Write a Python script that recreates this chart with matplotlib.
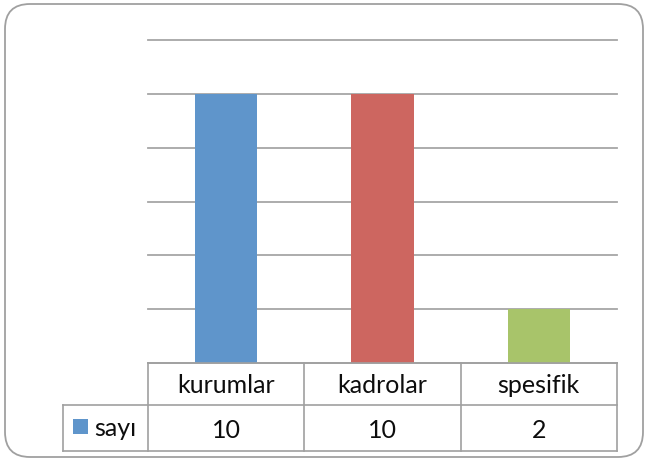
import matplotlib
matplotlib.use("Agg")
import matplotlib.pyplot as plt
from matplotlib.patches import FancyBboxPatch, Rectangle

categories = ["kurumlar", "kadrolar", "spesifik"]
values = [10, 10, 2]
series_name = "sayı"
y_ticks = [0, 2, 4, 6, 8, 10, 12]
bar_colors = ["#5F95CB", "#CD6660", "#A8C46A"]

plt.rcParams['font.family'] = ['Lato', 'DejaVu Sans']

W, H = 645, 464
fig = plt.figure(figsize=(W / 100, H / 100), dpi=100)
fig.patch.set_facecolor("white")

# axes placement in pixels
L, R, T, B = 148, 617, 41, 364
ax = fig.add_axes([L / W, 1 - B / H, (R - L) / W, (B - T) / H])

x = list(range(len(categories)))
ax.bar(x, values, width=0.4, color=bar_colors, zorder=3)
ax.set_xlim(-0.5, len(categories) - 0.5)
ax.set_ylim(y_ticks[0], y_ticks[-1])
ax.set_yticks(y_ticks)
ax.yaxis.grid(True, color="#A6A6A6", lw=1.3, zorder=0)
ax.set_axisbelow(True)
for s in ax.spines.values():
    s.set_visible(False)
ax.tick_params(left=False, bottom=False, labelleft=False, labelbottom=False)
for gl in ax.yaxis.get_gridlines():
    gl.set_clip_on(False)

# data table below the axis
aw, ah = R - L, B - T
def fx(px):
    return (px - L) / aw
def fy(py):
    return (B - py) / ah

tc = "#A0A0A0"
lw = 1.2
row1 = 406
row2 = 452
left_col = 62.5
tr = ax.transAxes
ax.plot([0, 1], [0, 0], color=tc, lw=lw, transform=tr, clip_on=False, zorder=4)
ax.plot([fx(left_col), 1], [fy(row1), fy(row1)], color=tc, lw=lw, transform=tr, clip_on=False)
ax.plot([fx(left_col), 1], [fy(row2), fy(row2)], color=tc, lw=lw, transform=tr, clip_on=False)
n = len(categories)
for i in range(n + 1):
    ax.plot([i / n, i / n], [0, fy(row2)], color=tc, lw=lw, transform=tr, clip_on=False)
ax.plot([fx(left_col), fx(left_col)], [fy(row1), fy(row2)], color=tc, lw=lw, transform=tr, clip_on=False)

fs = 18
tcol = "#0d0d0d"
for i, (c, v) in enumerate(zip(categories, values)):
    ax.text((i + 0.5) / n, fy(386), c, transform=tr, ha="center", va="center",
            fontsize=fs, color=tcol)
    ax.text((i + 0.5) / n, fy(431), str(v), transform=tr, ha="center", va="center",
            fontsize=fs, color=tcol)

ax.add_patch(Rectangle((fx(73), fy(435)), fx(88) - fx(73), fy(420) - fy(435), transform=tr,
                       facecolor=bar_colors[0], edgecolor="none", clip_on=False))
ax.text(fx(94), fy(429), series_name, transform=tr, ha="left", va="center",
        fontsize=fs, color=tcol)

# rounded outer border
border = FancyBboxPatch((0.05, 0.06), 6.38, 4.53, boxstyle="round,pad=0,rounding_size=0.25",
                        transform=fig.dpi_scale_trans, facecolor="none", edgecolor="#A0A0A0",
                        lw=1.3)
fig.patches.append(border)

fig.savefig("out.png", dpi=100, facecolor="white")
